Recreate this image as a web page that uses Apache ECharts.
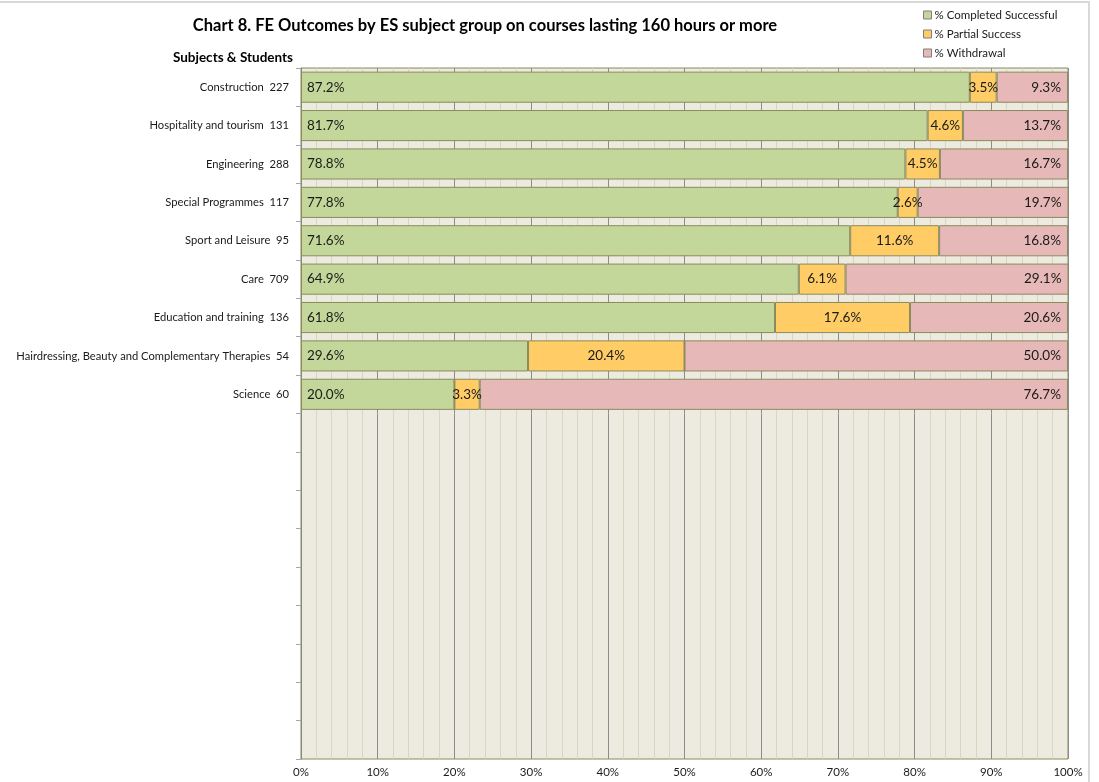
<!DOCTYPE html>
<html>
<head>
<meta charset="utf-8">
<script src="https://cdn.jsdelivr.net/npm/echarts@6/dist/echarts.min.js"></script>
<style>
html,body{margin:0;padding:0;background:#fff;}
#chart{width:1099px;height:782px;}
</style>
</head>
<body>
<div id="chart"></div>
<script>
var subjects = ["Construction", "Hospitality and tourism", "Engineering", "Special Programmes", "Sport and Leisure", "Care", "Education and training", "Hairdressing, Beauty and Complementary Therapies", "Science"];
var students = [227, 131, 288, 117, 95, 709, 136, 54, 60];
var completed = [87.2, 81.7, 78.8, 77.8, 71.6, 64.9, 61.8, 29.6, 20.0];
var partial = [3.5, 4.6, 4.5, 2.6, 11.6, 6.1, 17.6, 20.4, 3.3];
var withdrawal = [9.3, 13.7, 16.7, 19.7, 16.8, 29.1, 20.6, 50.0, 76.7];
var seriesNames = ["% Completed Successful", "% Partial Success", "% Withdrawal"];
var emptySlots = 9;

var cats = subjects.map(function (s, i) { return s + "  " + students[i]; });
for (var i = 0; i < emptySlots; i++) cats.push(" ".repeat(i + 1));
function pad(arr) { var a = arr.slice(); for (var i = 0; i < emptySlots; i++) a.push('-'); return a; }

var FONT = 'Lato, "Liberation Sans", sans-serif';
var colors = ['#C4D79B', '#FFCC66', '#E6B8B7'];
var borderC = '#8A8A5C';
function fmt(p) { return (+p.value).toFixed(1) + '%'; }
var lbl = { show: true, formatter: fmt, color: '#1a1a1a', fontSize: 13.5, fontFamily: FONT };

var chart = echarts.init(document.getElementById('chart'), null, { renderer: 'canvas' });
chart.setOption({
  animation: false,
  backgroundColor: '#ffffff',
  textStyle: { fontFamily: FONT },
  graphic: [{
    type: 'rect', shape: { x: -5, y: 2, width: 1094, height: 800 },
    style: { fill: 'none', stroke: '#D9D9D9', lineWidth: 2 }, silent: true, z: 100
  }],
  title: [{
    text: 'Chart 8. FE Outcomes by ES subject group on courses lasting 160 hours or more',
    left: 480, top: 12, textAlign: 'center',
    textStyle: { fontSize: 16.5, fontWeight: 'bold', color: '#000', fontFamily: FONT }
  }, {
    text: 'Subjects & Students', right: 806, top: 51, padding: 0,
    textStyle: { fontSize: 13.5, fontWeight: 'bold', color: '#000', fontFamily: FONT }
  }],
  legend: {
    orient: 'vertical', left: 918, top: 4, itemWidth: 8, itemHeight: 8, itemGap: 7,
    textStyle: { fontSize: 11.5, color: '#1a1a1a', fontFamily: FONT, padding: [0, 0, 0, -2] },
    data: seriesNames.map(function (n, i) {
      return { name: n, icon: 'rect', itemStyle: { color: colors[i], borderColor: '#7F7F7F', borderWidth: 1 } };
    })
  },
  grid: {
    left: 301, right: 31, top: 68, bottom: 23,
    show: true, backgroundColor: '#EDEBE0', borderColor: borderC, borderWidth: 1
  },
  xAxis: {
    type: 'value', min: 0, max: 100, interval: 10,
    axisLabel: { formatter: '{value}%', fontSize: 11.5, color: '#1a1a1a', margin: 7, fontFamily: FONT },
    axisLine: { show: false }, axisTick: { show: false },
    splitLine: { show: true, lineStyle: { color: '#8C8C8C', width: 1 } },
    minorTick: { show: false, splitNumber: 5 },
    minorSplitLine: { show: true, lineStyle: { color: '#D8D5C3', width: 1 } }
  },
  yAxis: {
    type: 'category', data: cats, inverse: true,
    axisLine: { show: true, lineStyle: { color: '#868686' } },
    axisTick: { show: true, length: 5, lineStyle: { color: '#A6A6A6' } },
    axisLabel: { fontSize: 11.2, color: '#1a1a1a', margin: 12, fontFamily: FONT },
    splitLine: { show: false }
  },
  series: [{
    name: seriesNames[0], type: 'bar', stack: 't', data: pad(completed), barCategoryGap: '19%',
    itemStyle: { color: colors[0], borderColor: borderC, borderWidth: 1 },
    label: Object.assign({ position: 'insideLeft', distance: 6 }, lbl)
  }, {
    name: seriesNames[1], type: 'bar', stack: 't', data: pad(partial),
    itemStyle: { color: colors[1], borderColor: borderC, borderWidth: 1 },
    label: Object.assign({ position: 'inside' }, lbl)
  }, {
    name: seriesNames[2], type: 'bar', stack: 't', data: pad(withdrawal),
    itemStyle: { color: colors[2], borderColor: borderC, borderWidth: 1 },
    label: Object.assign({ position: 'insideRight', distance: 7 }, lbl)
  }]
});
</script>
</body>
</html>
